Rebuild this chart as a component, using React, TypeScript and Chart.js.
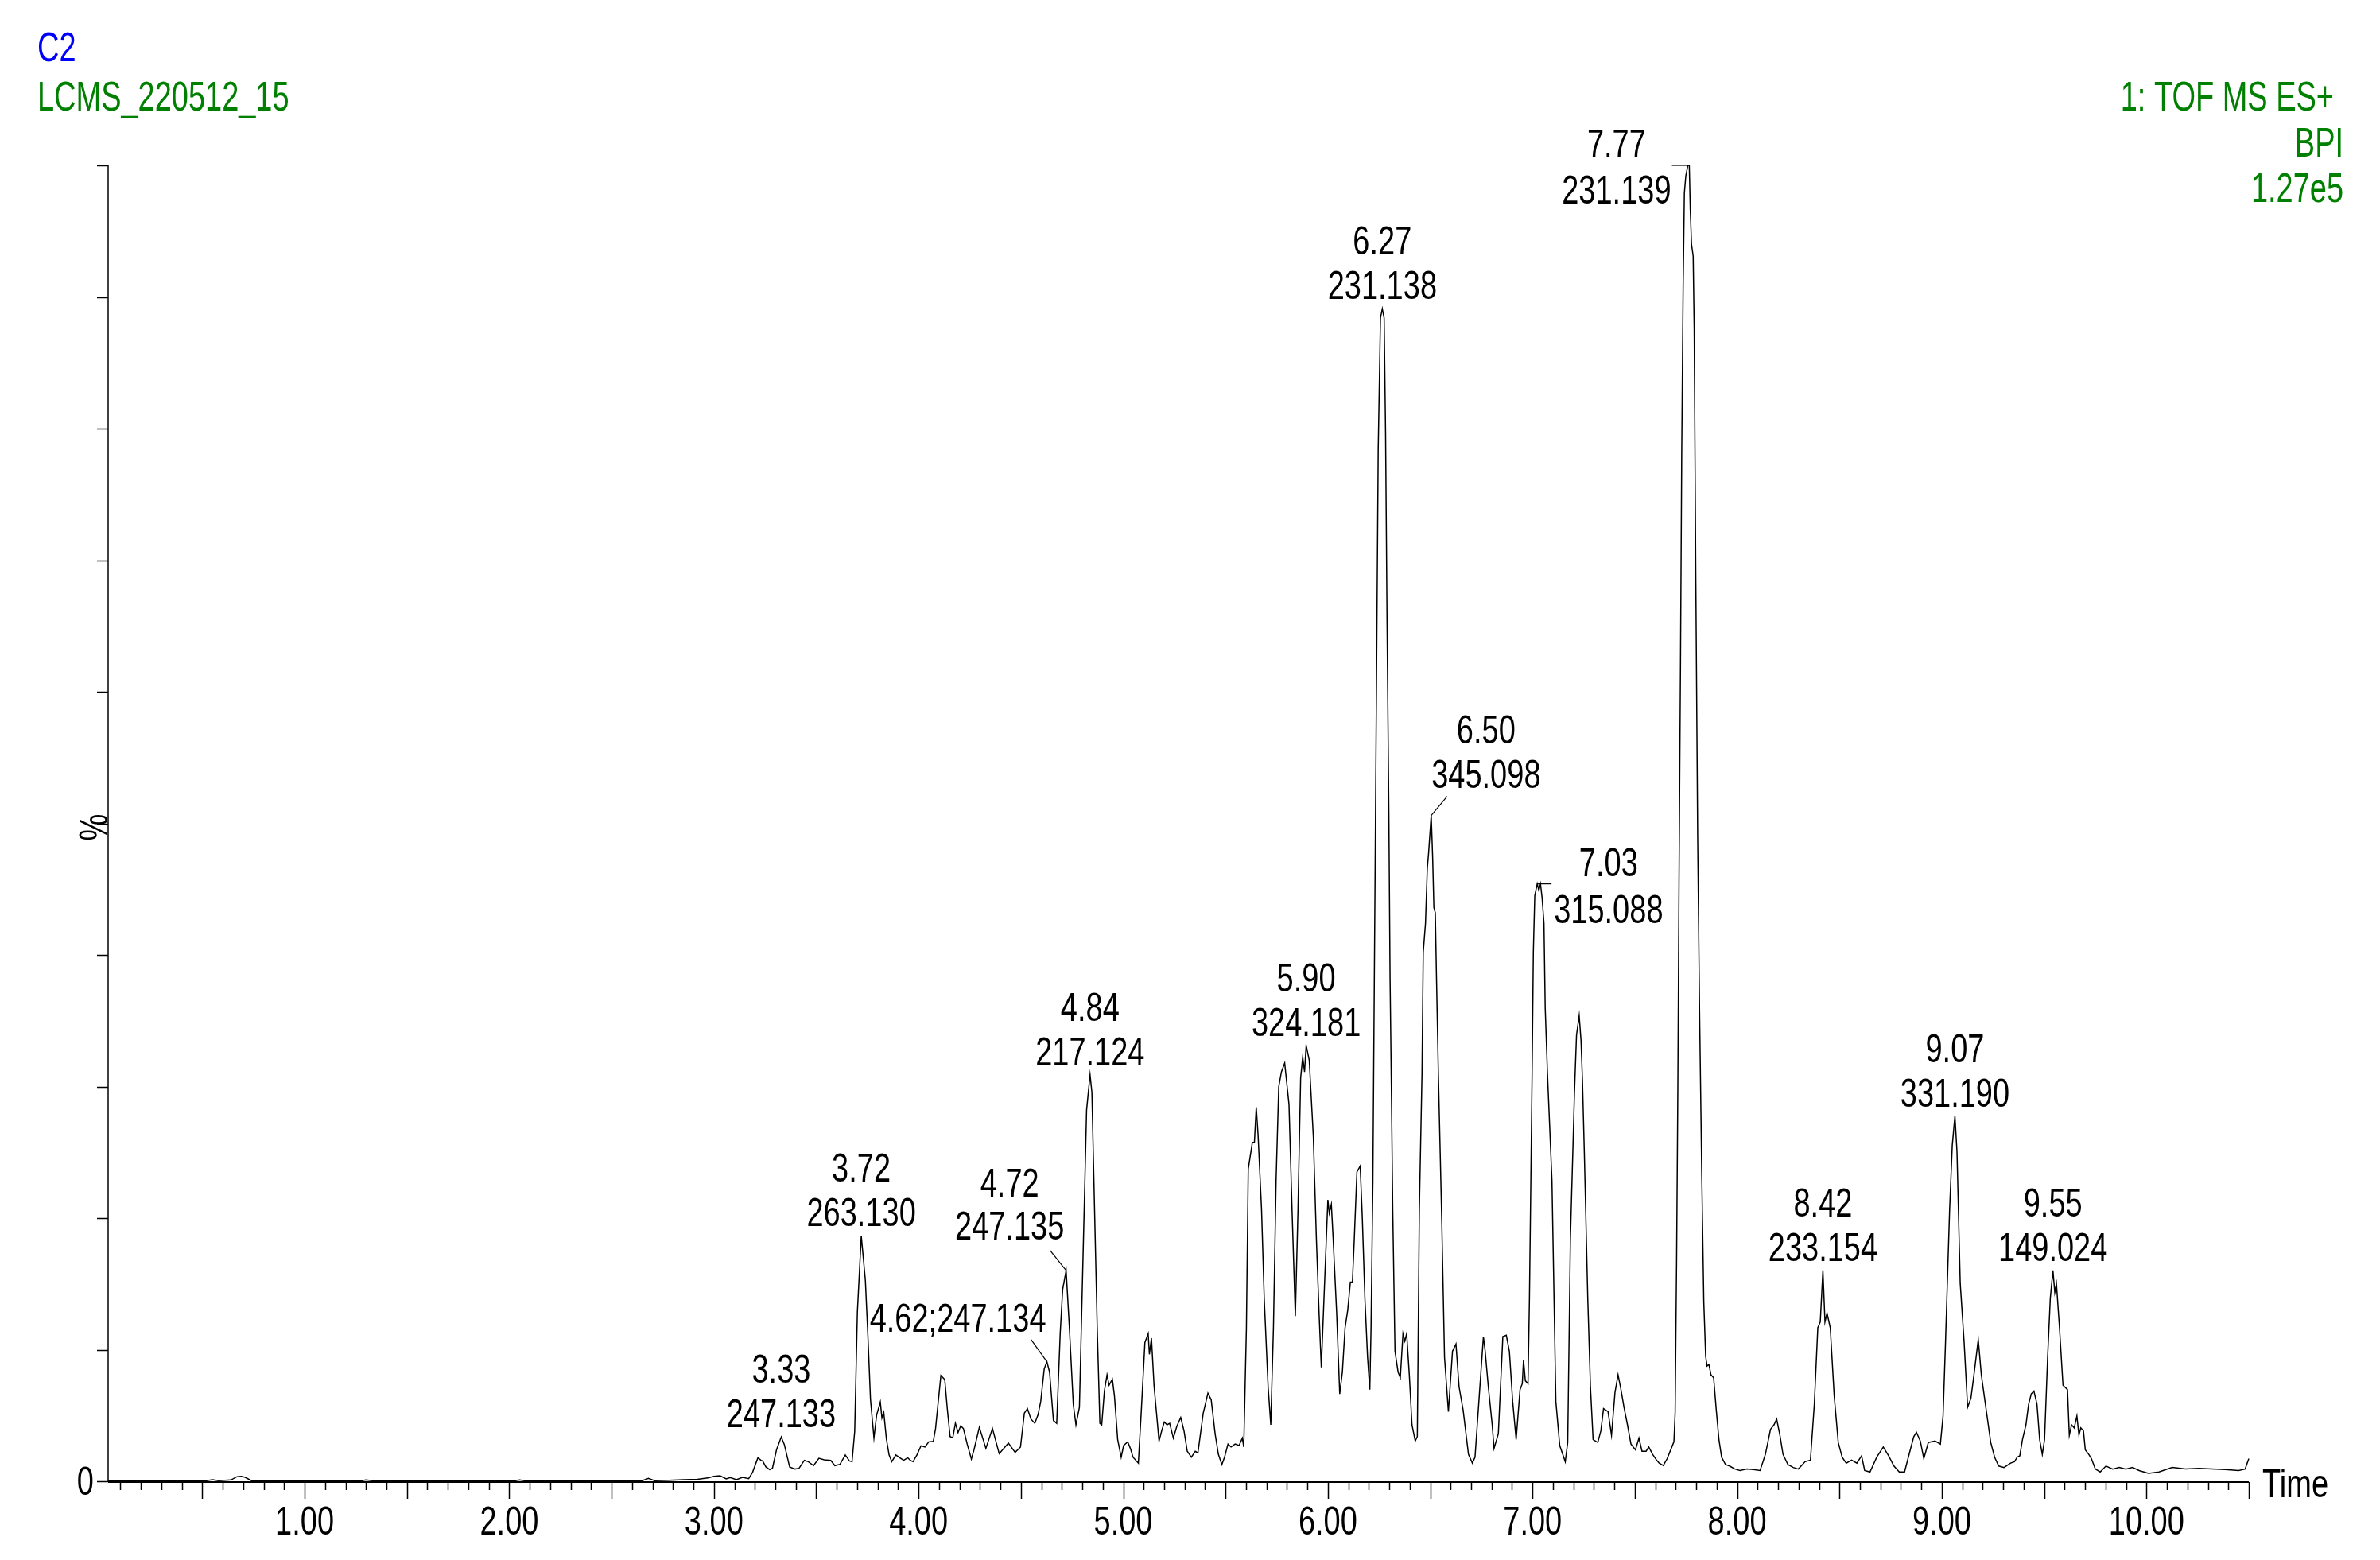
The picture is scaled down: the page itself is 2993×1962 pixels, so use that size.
import React, { useEffect, useRef } from 'react';
import { Chart, registerables } from 'chart.js';

Chart.register(...registerables);

// ---- Chromatogram trace (retention time in min, BPI intensity in % of 1.27e5) ----
const retentionTimes: number[] = [
  0.04, 0.30, 0.52, 0.55, 0.58, 0.64, 0.67, 0.69, 0.71, 0.74, 0.80, 1.28, 1.30, 1.33, 2.03, 2.05, 2.08, 2.65, 2.68, 2.71,
  2.78, 2.85, 2.92, 2.97, 3.00, 3.03, 3.06, 3.08, 3.11, 3.14, 3.17,
  3.189, 3.215, 3.230, 3.238, 3.254, 3.273, 3.286, 3.306, 3.329, 3.344, 3.370, 3.396, 3.416, 3.442, 3.461, 3.487, 3.513,
  3.539, 3.571, 3.591, 3.616, 3.642, 3.662, 3.675, 3.688, 3.701, 3.720, 3.740, 3.753, 3.765, 3.782, 3.795, 3.813, 3.821,
  3.830, 3.843, 3.856, 3.869, 3.889, 3.908, 3.927, 3.947, 3.960, 3.973, 3.992, 4.012, 4.031, 4.050, 4.072, 4.083, 4.109,
  4.128, 4.141, 4.154, 4.167, 4.180, 4.193, 4.206, 4.219, 4.238, 4.258, 4.271, 4.297, 4.329, 4.361, 4.394, 4.439, 4.472,
  4.498,
  4.517, 4.532, 4.549, 4.568, 4.584, 4.597, 4.614, 4.627, 4.640, 4.659, 4.675, 4.692, 4.704, 4.721, 4.737, 4.756, 4.769,
  4.786, 4.804, 4.821, 4.838, 4.847, 4.860, 4.873, 4.886, 4.895, 4.908, 4.921, 4.931, 4.947, 4.957, 4.973, 4.990, 5.002,
  5.022, 5.035, 5.048, 5.074, 5.087, 5.106, 5.122, 5.128, 5.138, 5.151, 5.175, 5.188, 5.201, 5.214, 5.227, 5.245, 5.262,
  5.281, 5.297, 5.313, 5.333, 5.352, 5.365, 5.391, 5.414, 5.430, 5.449, 5.465, 5.482, 5.495, 5.512, 5.527, 5.547, 5.566,
  5.582, 5.589, 5.602, 5.611, 5.631, 5.641, 5.650, 5.659, 5.676, 5.689, 5.708, 5.721, 5.734, 5.747, 5.760, 5.773, 5.789,
  5.810, 5.825, 5.841, 5.854, 5.867, 5.877, 5.886, 5.894, 5.909, 5.929, 5.944, 5.957, 5.968, 5.981, 6.000, 6.007, 6.017,
  6.026, 6.043, 6.058, 6.071, 6.084,
  6.097, 6.110, 6.120, 6.129, 6.142, 6.158, 6.168, 6.181, 6.194, 6.205, 6.211, 6.220, 6.227, 6.233, 6.240, 6.246, 6.257,
  6.266, 6.275, 6.282, 6.289, 6.298, 6.304, 6.311, 6.317, 6.328, 6.343, 6.354, 6.367, 6.376, 6.385, 6.398, 6.411, 6.427,
  6.437, 6.447, 6.460, 6.466, 6.477, 6.486, 6.492, 6.505, 6.512, 6.518, 6.525, 6.531, 6.540, 6.557, 6.570, 6.589, 6.609,
  6.626, 6.641, 6.661, 6.687, 6.706, 6.719, 6.738, 6.760, 6.768, 6.784, 6.803, 6.812, 6.833, 6.855, 6.872, 6.887, 6.903,
  6.920, 6.939, 6.950, 6.956, 6.965, 6.978, 6.985, 6.998, 7.004, 7.011, 7.023, 7.031, 7.039, 7.047, 7.056, 7.062, 7.073,
  7.095, 7.114, 7.133, 7.160, 7.172, 7.185, 7.205, 7.215, 7.228, 7.237, 7.244, 7.253, 7.270, 7.283, 7.296, 7.319, 7.334,
  7.347, 7.369, 7.386, 7.403, 7.418, 7.431, 7.447, 7.464, 7.481, 7.503, 7.520, 7.535, 7.555, 7.568, 7.587, 7.606, 7.619,
  7.639, 7.658, 7.678, 7.691,
  7.697, 7.704, 7.710, 7.716, 7.723, 7.729, 7.736, 7.742, 7.749, 7.759, 7.766, 7.771, 7.777, 7.785, 7.790, 7.798, 7.807,
  7.816, 7.827, 7.837, 7.846,
  7.853, 7.862, 7.872, 7.885, 7.898, 7.911, 7.924, 7.943, 7.963, 7.989, 8.014, 8.047, 8.079, 8.112, 8.138, 8.163, 8.180,
  8.193, 8.209, 8.224, 8.248, 8.274, 8.299, 8.332, 8.358, 8.377, 8.394, 8.406, 8.419, 8.429, 8.439, 8.455, 8.474, 8.494,
  8.513, 8.533, 8.559, 8.585, 8.608, 8.623, 8.649, 8.682, 8.714, 8.740, 8.766, 8.792, 8.818, 8.844, 8.863, 8.876, 8.895,
  8.912, 8.934, 8.967, 8.993, 9.006, 9.018, 9.038, 9.051, 9.064, 9.074, 9.090, 9.109, 9.126, 9.142, 9.157, 9.178, 9.193,
  9.217, 9.239, 9.258, 9.278, 9.304,
  9.336, 9.355, 9.368, 9.381, 9.394, 9.411, 9.424, 9.437, 9.450, 9.465, 9.478, 9.491, 9.502, 9.517, 9.530, 9.543, 9.552,
  9.560, 9.575, 9.592, 9.614, 9.623, 9.634, 9.647, 9.660, 9.670, 9.679, 9.692, 9.701, 9.718, 9.731, 9.750, 9.774, 9.802,
  9.835, 9.867, 9.899, 9.932, 9.964, 10.010, 10.061, 10.126, 10.191, 10.256, 10.320, 10.385, 10.450, 10.482, 10.500,
];

const bpiPercent: number[] = [
  0.05, 0.05, 0.05, 0.12, 0.05, 0.10, 0.35, 0.38, 0.30, 0.05, 0.05, 0.05, 0.10, 0.05, 0.05, 0.10, 0.03, 0.05, 0.22, 0.05,
  0.08, 0.12, 0.15, 0.25, 0.38, 0.42, 0.18, 0.28, 0.12, 0.30, 0.20,
  0.69, 1.79, 1.59, 1.55, 1.09, 0.89, 0.99, 2.40, 3.37, 2.80, 1.09, 0.93, 0.99, 1.59, 1.49, 1.19, 1.75,
  1.63, 1.59, 1.19, 1.29, 2.00, 1.55, 1.49, 3.81, 12.87, 18.65, 15.29, 10.86, 6.22, 3.30, 5.02, 6.02, 4.81,
  5.22, 3.20, 2.00, 1.49, 2.00, 1.79, 1.59, 1.79, 1.59, 1.49, 2.00, 2.70, 2.60, 3.00, 3.04, 4.01, 8.04,
  7.73, 5.42, 3.40, 3.30, 4.41, 3.71, 4.21, 4.01, 2.80, 1.69, 2.40, 4.11, 2.50, 4.01, 2.10, 2.90, 2.20,
  2.60,
  5.18, 5.52, 4.73, 4.40, 5.07, 6.08, 8.54, 9.09, 8.31, 4.62, 4.40, 11.22, 14.57, 16.02, 11.66, 5.85, 4.29,
  5.63, 17.25, 28.21, 30.89, 29.55, 20.61, 11.66, 4.40, 4.29, 6.86, 8.09, 7.30, 7.75, 6.52, 3.17, 1.83, 2.72,
  2.99, 2.50, 1.83, 1.38, 4.96, 10.55, 11.22, 9.65, 10.88, 7.19, 3.06, 3.84, 4.51, 4.29, 4.40, 3.28, 4.18,
  4.85, 3.84, 2.28, 1.83, 2.28, 2.16, 5.18, 6.70, 6.19, 3.62, 2.05, 1.27, 1.83, 2.83, 2.61, 2.83, 2.72,
  3.28, 2.61, 11.66, 23.73, 25.75, 25.75, 28.43, 26.31, 20.61, 13.90, 7.19, 4.29, 11.66, 22.84, 29.99, 31.11, 31.78,
  28.65, 20.61, 12.56, 20.61, 30.66, 32.23, 31.11, 33.12, 32.01, 26.19, 18.37, 12.78, 8.65, 13.90, 21.39, 20.38, 21.05,
  18.37, 12.78, 6.64, 8.31, 11.66,
  13.00, 15.13, 15.13, 18.37, 23.51, 23.96, 20.16, 13.90, 9.43, 6.97, 11.66, 22.84, 38.1, 50.8, 65.7, 78.4, 88.4,
  89.1, 88.4, 79.7, 65.7, 50.8, 38.1, 29.0, 20.61, 9.88, 8.31, 7.87, 11.22, 10.66, 11.22, 8.09, 4.29, 3.06,
  3.39, 20.61, 31.0, 40.2, 42.4, 46.6, 47.7, 50.6, 47.4, 43.6, 43.2, 38.1, 31.0, 19.49, 9.43, 5.29, 9.88,
  10.43, 7.19, 5.40, 2.05, 1.38, 1.83, 6.08, 10.99, 9.99, 7.19, 4.29, 2.50, 3.62, 10.99, 11.10, 9.88, 6.08,
  3.17, 6.97, 7.42, 9.20, 7.64, 7.42, 13.90, 31.0, 40.2, 44.5, 45.4, 44.9, 45.4, 44.3, 42.4, 36.0, 31.0,
  22.84, 6.08, 2.72, 1.49, 2.95, 18.37, 29.55, 33.9, 35.4, 33.5, 30.5, 25.08, 13.90, 7.19, 3.17, 2.95, 3.84,
  5.52, 5.29, 3.50, 6.75, 8.09, 7.08, 5.63, 4.29, 2.83, 2.39, 3.28, 2.28, 2.28, 2.61, 2.05, 1.61, 1.38,
  1.20, 1.72, 2.50, 3.00,
  5.24, 16.8, 29.7, 45.8, 61.9, 78.0, 90.8, 97.9, 99.2, 100.0, 100.0, 96.6, 94.0, 93.1, 87.6, 68.3, 49.0,
  36.1, 23.3, 13.6, 9.5,
  8.76, 8.87, 8.09, 7.87, 5.40, 3.17, 1.83, 1.27, 1.16, 0.93, 0.82, 0.93, 0.89, 0.82, 2.05, 3.95, 4.29,
  4.73, 3.50, 2.05, 1.27, 1.05, 0.93, 1.49, 1.61, 5.85, 11.66, 12.11, 16.02, 12.11, 12.78, 11.66, 6.52, 2.95,
  1.83, 1.38, 1.61, 1.38, 1.94, 0.82, 0.71, 1.83, 2.61, 1.94, 1.16, 0.71, 0.71, 2.28, 3.39, 3.73, 3.06,
  1.72, 2.95, 3.06, 2.83, 4.96, 10.55, 20.61, 25.52, 27.76, 25.08, 15.02, 10.55, 5.63, 6.30, 8.09, 10.77, 8.09,
  5.40, 2.95, 1.83, 1.16, 1.05,
  1.38, 1.49, 1.83, 1.94, 3.17, 4.29, 5.85, 6.64, 6.86, 5.85, 3.17, 2.05, 3.17, 9.43, 13.90, 16.02, 14.35,
  15.02, 11.66, 7.30, 6.97, 3.50, 4.29, 4.06, 4.96, 3.50, 4.06, 3.84, 2.39, 2.05, 1.72, 0.93, 0.71, 1.16,
  0.93, 1.05, 0.93, 1.05, 0.82, 0.60, 0.71, 1.05, 0.93, 0.98, 0.93, 0.89, 0.82, 0.93, 1.72,
];

// ---- Axes ----
const xRange = [0.04, 10.5];
const yRange = [0, 100];
const xTickValues = [1, 2, 3, 4, 5, 6, 7, 8, 9, 10];
const xTickLabels = ['1.00', '2.00', '3.00', '4.00', '5.00', '6.00', '7.00', '8.00', '9.00', '10.00'];
const yTickValues = [0, 10, 20, 30, 40, 50, 60, 70, 80, 90, 100];
const yZeroLabel = '0';
const yAxisTitle = '%';
const xAxisTitle = 'Time';

// ---- Header texts ----
const headerSample = 'C2';
const headerFile = 'LCMS_220512_15';
const headerRight = ['1: TOF MS ES+', 'BPI', '1.27e5'];

// ---- Peak annotations ----
const peakLabelTimes = ['3.33', '3.72', '4.62', '4.72', '4.84', '5.90', '6.27', '6.50', '7.03', '7.77', '8.42', '9.07', '9.55'];
const peakLabelMasses = ['247.133', '263.130', '247.134', '247.135', '217.124', '324.181', '231.138', '345.098', '315.088', '231.139', '233.154', '331.190', '149.024'];
// placement style of each annotation (layout only)
const peakLabelStyles = ['above', 'above', 'leftSingle', 'leftDiag', 'above', 'above', 'above', 'rightDiag', 'rightFlat', 'leftFlat', 'above', 'above', 'above'];

const FONT_FAMILY = '"Liberation Sans", Arial, Helvetica, sans-serif';
const SX = 0.76;
const SX_HEADER = 0.73;

function condText(ctx: CanvasRenderingContext2D, text: string, x: number, y: number, align: CanvasTextAlign, size: number, color: string, sx: number = SX) {
  ctx.save();
  ctx.font = `${size}px ${FONT_FAMILY}`;
  ctx.fillStyle = color;
  ctx.textAlign = align;
  ctx.textBaseline = 'alphabetic';
  ctx.translate(x, y);
  ctx.scale(sx, 1);
  ctx.fillText(text, 0, 0);
  ctx.restore();
}

function condWidth(ctx: CanvasRenderingContext2D, text: string, size: number) {
  ctx.save();
  ctx.font = `${size}px ${FONT_FAMILY}`;
  const w = ctx.measureText(text).width * SX;
  ctx.restore();
  return w;
}

function findPeak(label: string) {
  const tl = parseFloat(label);
  let best = -1;
  let bt = tl;
  for (let i = 0; i < retentionTimes.length; i++) {
    if (Math.abs(retentionTimes[i] - tl) <= 0.02 && bpiPercent[i] > best) {
      best = bpiPercent[i];
      bt = retentionTimes[i];
    }
  }
  return { t: bt, v: best };
}

const chromPlugin = {
  id: 'chromDecor',
  afterDatasetsDraw(chart: any) {
    const ctx: CanvasRenderingContext2D = chart.ctx;
    const xs = chart.scales.x;
    const ys = chart.scales.y;
    const x0 = xs.getPixelForValue(xRange[0]);
    const x1 = xs.getPixelForValue(xRange[1]);
    const yb = ys.getPixelForValue(0);
    const yt = ys.getPixelForValue(100);

    ctx.save();
    ctx.strokeStyle = '#000';
    // y axis
    ctx.lineWidth = 1.5;
    ctx.beginPath();
    ctx.moveTo(x0, yb);
    ctx.lineTo(x0, yt);
    ctx.stroke();
    for (const v of yTickValues) {
      const py = Math.round(ys.getPixelForValue(v)) + 0.5;
      ctx.beginPath();
      ctx.moveTo(x0 - 14, py);
      ctx.lineTo(x0, py);
      ctx.stroke();
    }
    // x axis
    ctx.lineWidth = 2;
    ctx.beginPath();
    ctx.moveTo(x0, yb + 1);
    ctx.lineTo(x1, yb + 1);
    ctx.stroke();
    ctx.lineWidth = 1.5;
    for (let k = 1; k <= 105; k++) {
      const v = k / 10;
      if (v < xRange[0]) continue;
      const px = Math.round(xs.getPixelForValue(v)) + 0.5;
      const len = k % 5 === 0 ? 21 : 10;
      ctx.beginPath();
      ctx.moveTo(px, yb + 1);
      ctx.lineTo(px, yb + 1 + len);
      ctx.stroke();
    }
    ctx.restore();

    // tick labels
    xTickValues.forEach((v, i) => {
      condText(ctx, xTickLabels[i], xs.getPixelForValue(v), yb + 67, 'center', 50, '#000');
    });
    condText(ctx, yZeroLabel, x0 - 18, yb + 17, 'right', 50, '#000');
    condText(ctx, xAxisTitle, x1 + 17, yb + 20, 'left', 50, '#000');
    // rotated % title
    ctx.save();
    ctx.translate(x0 - 1, (yb + yt) / 2 + 5);
    ctx.rotate(-Math.PI / 2);
    ctx.font = `50px ${FONT_FAMILY}`;
    ctx.fillStyle = '#000';
    ctx.textAlign = 'center';
    ctx.textBaseline = 'alphabetic';
    ctx.scale(SX, 1);
    ctx.fillText(yAxisTitle, 0, 0);
    ctx.restore();

    // headers
    condText(ctx, headerSample, 47, 77, 'left', 52, '#0000FF', SX_HEADER);
    condText(ctx, headerFile, 47, 139, 'left', 52, '#008000', SX_HEADER);
    const rightX = [2935, 2947, 2947];
    const rightY = [139, 197, 254];
    headerRight.forEach((s, i) => condText(ctx, s, rightX[i], rightY[i], 'right', 52, '#008000', SX_HEADER));

    // peak annotations
    ctx.save();
    ctx.strokeStyle = '#000';
    ctx.lineWidth = 1.2;
    peakLabelTimes.forEach((lt, i) => {
      const pk = findPeak(lt);
      const px = xs.getPixelForValue(pk.t);
      const py = ys.getPixelForValue(pk.v);
      const mass = peakLabelMasses[i];
      const style = peakLabelStyles[i];
      const line = (ax: number, ay: number, bx: number, by: number) => {
        ctx.beginPath();
        ctx.moveTo(ax, ay);
        ctx.lineTo(bx, by);
        ctx.stroke();
      };
      if (style === 'above') {
        condText(ctx, lt, px, py - 68, 'center', 50, '#000');
        condText(ctx, mass, px, py - 12, 'center', 50, '#000');
      } else if (style === 'leftSingle') {
        condText(ctx, `${lt};${mass}`, px - 1, py - 38, 'right', 50, '#000');
        line(px - 20, py - 28, px, py);
      } else if (style === 'leftDiag') {
        condText(ctx, lt, px - 71, py - 93, 'center', 50, '#000');
        condText(ctx, mass, px - 71, py - 39, 'center', 50, '#000');
        line(px - 20, py - 25, px, py);
      } else if (style === 'rightDiag') {
        condText(ctx, lt, px + 69, py - 91, 'center', 50, '#000');
        condText(ctx, mass, px + 69, py - 35, 'center', 50, '#000');
        line(px, py, px + 20, py - 24);
      } else if (style === 'rightFlat') {
        const cx = px + 21 + condWidth(ctx, mass, 50) / 2;
        condText(ctx, lt, cx, py - 10, 'center', 50, '#000');
        condText(ctx, mass, cx, py + 49, 'center', 50, '#000');
        line(px, py, px + 18, py);
      } else if (style === 'leftFlat') {
        const cx = px - 21 - condWidth(ctx, mass, 50) / 2;
        condText(ctx, lt, cx, py - 10, 'center', 50, '#000');
        condText(ctx, mass, cx, py + 48, 'center', 50, '#000');
        line(px - 20, py, px, py);
      }
    });
    ctx.restore();
  },
};

export default function App() {
  const canvasRef = useRef<HTMLCanvasElement | null>(null);

  useEffect(() => {
    document.body.style.margin = '0';
    document.body.style.overflow = 'hidden';
    document.body.style.background = '#fff';
    const canvas = canvasRef.current;
    if (!canvas) return;
    const chart = new Chart(canvas, {
      type: 'line',
      data: {
        datasets: [
          {
            label: 'BPI',
            data: retentionTimes.map((t, i) => ({ x: t, y: bpiPercent[i] })),
            borderColor: '#000000',
            borderWidth: 1.5,
            pointRadius: 0,
            fill: false,
            tension: 0,
            clip: false as any,
          },
        ],
      },
      options: {
        responsive: false,
        maintainAspectRatio: false,
        devicePixelRatio: 1,
        animation: false,
        parsing: true,
        layout: { padding: { left: 136, right: 165, top: 208, bottom: 99 } },
        plugins: {
          legend: { display: false },
          tooltip: { enabled: false },
          title: { display: false },
        },
        scales: {
          x: { type: 'linear', display: false, min: xRange[0], max: xRange[1] },
          y: { type: 'linear', display: false, min: yRange[0], max: yRange[1] },
        },
      },
      plugins: [chromPlugin],
    });
    return () => chart.destroy();
  }, []);

  return (
    <div style={{ width: 2993, height: 1962, background: '#fff' }}>
      <canvas ref={canvasRef} width={2993} height={1962} style={{ display: 'block', width: 2993, height: 1962 }} />
    </div>
  );
}
